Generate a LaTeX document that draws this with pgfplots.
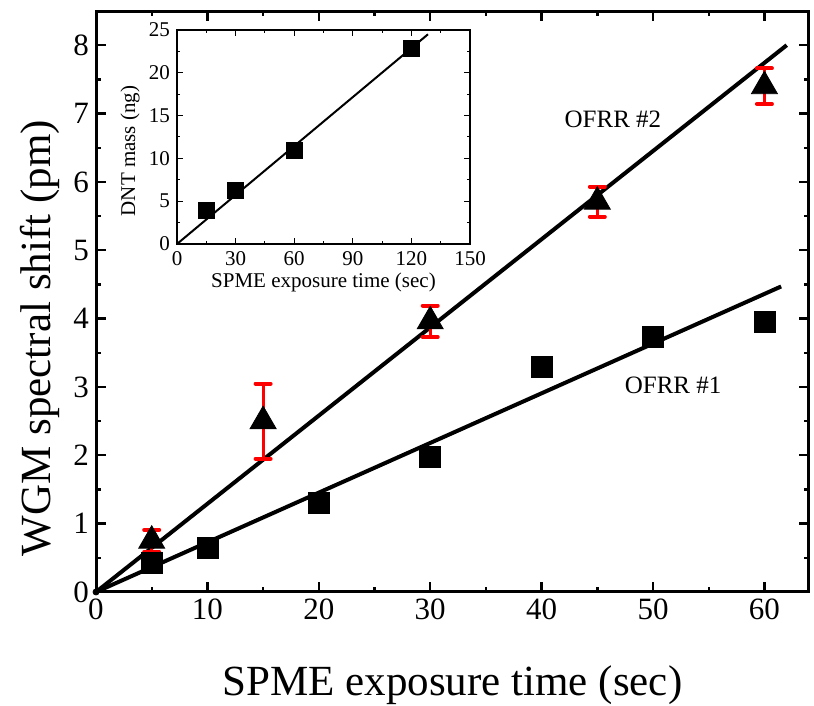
\documentclass[border=0pt]{standalone}
\usepackage{pgfplots}
\pgfplotsset{compat=1.18}
\usepackage{fontspec}
\setmainfont{Liberation Serif}

\pgfplotstableread{
x y
5 0.42
10 0.65
20 1.31
30 1.97
40 3.29
50 3.73
60 3.95
}\ofrrone

\pgfplotstableread{
x y e
5 0.75 0.16
15 2.50 0.55
30 3.96 0.23
45 5.71 0.22
60 7.40 0.26
}\ofrrtwo

\pgfplotstableread{
x y
15 3.9
30 6.3
60 10.9
120 22.8
}\dnt

\begin{document}
\begin{tikzpicture}
\useasboundingbox (-48pt,-57pt) rectangle (359pt,296pt);
% main plot
\begin{axis}[
  at={(0,0)}, anchor=south west,
  scale only axis, width=356.5pt, height=290.5pt,
  xmin=0, xmax=64, ymin=0, ymax=8.5,
  xtick={0,10,...,60}, ytick={0,1,...,8},
  minor x tick num=1, minor y tick num=1,
  tick align=inside, tick pos=both,
  major tick length=5pt, minor tick length=2.5pt,
  axis line style={line width=1.5pt},
  every tick/.style={black, line width=1.2pt},
  /pgf/number format/assume math mode=true,
  ticklabel style={font=\fontsize{15.5}{16}\selectfont},
  xlabel={SPME exposure time (sec)},
  ylabel={WGM spectral shift (pm)},
  label style={font=\fontsize{21.5}{22}\selectfont},
  xlabel style={at={(axis description cs:0.5,-0.16)}, anchor=center},
  ylabel style={at={(axis description cs:-0.0785,0.437)}, anchor=center},
  clip=false,
]
\addplot[black, line width=2pt] coordinates {(0,0) (61.5,4.47)};
\addplot[black, line width=2pt] coordinates {(0,0) (62,8.0)};
\addplot[only marks, mark=*, mark size=1.5pt, black] coordinates {(0,0)};
\addplot[only marks, mark=square*, mark size=5.25pt, black] table[x=x,y=y] {\ofrrone};
\addplot[only marks, mark=none, draw=none,
  error bars/.cd, y dir=both, y explicit,
  error mark=|,
  error bar style={red, line width=1.5pt},
  error mark options={red, line width=2pt, mark size=3.75pt, line cap=round}]
  table[x=x,y=y,y error=e] {\ofrrtwo};
\addplot[only marks, mark=triangle*, mark size=7.5pt, black] table[x=x,y=y] {\ofrrtwo};
\node[font=\fontsize{12.5}{13}\selectfont] at (axis cs:46.4,6.91) {OFRR \#2};
\node[font=\fontsize{12.5}{13}\selectfont] at (axis cs:51.8,3.03) {OFRR \#1};
\end{axis}
% inset
\begin{axis}[
  at={(40.5pt,174pt)}, anchor=south west,
  scale only axis, width=146.5pt, height=107pt,
  xmin=0, xmax=150, ymin=0, ymax=25,
  xtick={0,30,...,150}, ytick={0,5,...,25},
  minor x tick num=1, minor y tick num=1,
  tick align=inside, tick pos=both,
  major tick length=3pt, minor tick length=1.5pt,
  axis line style={line width=0.6pt},
  every tick/.style={black, line width=0.5pt},
  axis background/.style={fill=white},
  /pgf/number format/assume math mode=true,
  ticklabel style={font=\fontsize{10.5}{10.5}\selectfont},
  xlabel={SPME exposure time (sec)},
  ylabel={DNT mass (ng)},
  label style={font=\fontsize{10.5}{10.5}\selectfont},
  xlabel style={at={(axis description cs:0.5,-0.182)}, anchor=center},
  ylabel style={at={(axis description cs:-0.16,0.435)}, anchor=center},
]
\addplot[black, line width=1pt] coordinates {(0,0) (128.5,24.5)};
\addplot[only marks, mark=square*, mark size=4pt, black] table[x=x,y=y] {\dnt};
\end{axis}
\end{tikzpicture}
\end{document}
